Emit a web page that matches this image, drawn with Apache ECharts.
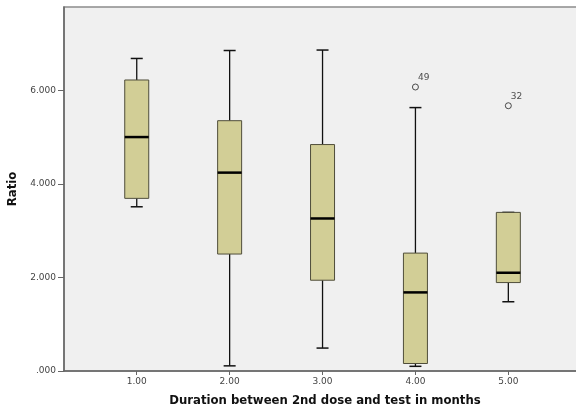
<!DOCTYPE html>
<html>
<head>
<meta charset="utf-8">
<script src="https://cdn.jsdelivr.net/npm/echarts@6/dist/echarts.min.js"></script>
<style>html,body{margin:0;padding:0;background:#fff;overflow:hidden}#c{width:576px;height:411px}</style>
</head>
<body>
<div id="c"></div>
<script>
const categories = [1, 2, 3, 4, 5];
const whiskerLow = [3.51, 0.11, 0.49, 0.10, 1.48];
const q1 = [3.69, 2.50, 1.94, 0.16, 1.89];
const medians = [5.00, 4.24, 3.26, 1.68, 2.10];
const q3 = [6.22, 5.35, 4.84, 2.52, 3.39];
const whiskerHigh = [6.68, 6.85, 6.86, 5.63, 3.39];
const outlierX = [4, 5];
const outlierY = [6.07, 5.67];
const outlierLabels = ['49', '32'];
const yTicks = [0, 2, 4, 6];
const xTicks = [1, 2, 3, 4, 5];

const boxData = categories.map((c, i) => [c, whiskerLow[i], q1[i], medians[i], q3[i], whiskerHigh[i]]);
const outData = outlierX.map((x, i) => [x, outlierY[i], outlierLabels[i]]);

const chart = echarts.init(document.getElementById('c'));
const FONT = '"DejaVu Sans", Verdana, sans-serif';
chart.setOption({
  animation: false,
  grid: {left: 64, top: 7, width: 522, height: 364, outerBoundsMode: 'none', containLabel: false, show: true, backgroundColor: '#f0f0f0', borderColor: '#8c8c8c', borderWidth: 1.5},
  xAxis: {
    type: 'value', min: 0.217, max: 5.836,
    name: 'Duration between 2nd dose and test in months', nameLocation: 'middle', nameGap: 24,
    nameTextStyle: {fontFamily: FONT, fontWeight: 'bold', fontSize: 11.7, color: '#111'},
    axisLine: {show: true, lineStyle: {color: '#666', width: 1.5}},
    axisTick: {show: true, customValues: xTicks, length: 4, lineStyle: {color: '#666'}},
    axisLabel: {customValues: xTicks, formatter: v => v.toFixed(2), fontFamily: FONT, fontSize: 9, color: '#444', margin: 6},
    splitLine: {show: false}
  },
  yAxis: {
    type: 'value', min: 0, max: 7.78,
    name: 'Ratio', nameLocation: 'middle', nameGap: 43, nameRotate: 90,
    nameTextStyle: {fontFamily: FONT, fontWeight: 'bold', fontSize: 11.7, color: '#111'},
    axisLine: {show: true, lineStyle: {color: '#666', width: 1.5}},
    axisTick: {show: true, customValues: yTicks, length: 6, lineStyle: {color: '#666'}},
    axisLabel: {customValues: yTicks, formatter: v => v === 0 ? '.000' : v.toFixed(3), fontFamily: FONT, fontSize: 9, color: '#444', margin: 8},
    splitLine: {show: false}
  },
  series: [{
    type: 'custom',
    data: boxData,
    encode: {x: 0, y: [1, 2, 3, 4, 5]},
    renderItem: function (params, api) {
      const x = api.value(0);
      const pLow = api.coord([x, api.value(1)]);
      const pQ1 = api.coord([x, api.value(2)]);
      const pMed = api.coord([x, api.value(3)]);
      const pQ3 = api.coord([x, api.value(4)]);
      const pHigh = api.coord([x, api.value(5)]);
      const cx = pMed[0];
      const hw = 12, cw = 6;
      const line = {stroke: '#111', lineWidth: 1.3};
      return {
        type: 'group',
        children: [
          {type: 'line', shape: {x1: cx, y1: pHigh[1], x2: cx, y2: pQ3[1]}, style: line},
          {type: 'line', shape: {x1: cx, y1: pLow[1], x2: cx, y2: pQ1[1]}, style: line},
          {type: 'line', shape: {x1: cx - cw, y1: pHigh[1], x2: cx + cw, y2: pHigh[1]}, style: {stroke: '#111', lineWidth: 1.5}},
          {type: 'line', shape: {x1: cx - cw, y1: pLow[1], x2: cx + cw, y2: pLow[1]}, style: {stroke: '#111', lineWidth: 1.5}},
          {type: 'rect', shape: {x: cx - hw, y: pQ3[1], width: 2 * hw, height: pQ1[1] - pQ3[1]}, style: {fill: '#d2ce96', stroke: '#4f4d3a', lineWidth: 1}},
          {type: 'line', shape: {x1: cx - hw, y1: pMed[1], x2: cx + hw, y2: pMed[1]}, style: {stroke: '#000', lineWidth: 2.5}}
        ]
      };
    }
  }, {
    type: 'scatter',
    data: outData,
    symbol: 'circle', symbolSize: 6,
    itemStyle: {color: '#f0f0f0', borderColor: '#222', borderWidth: 1},
    label: {show: true, formatter: p => p.data[2], position: [6, -10], fontFamily: FONT, fontSize: 9, color: '#222'}
  }]
});
</script>
</body>
</html>
